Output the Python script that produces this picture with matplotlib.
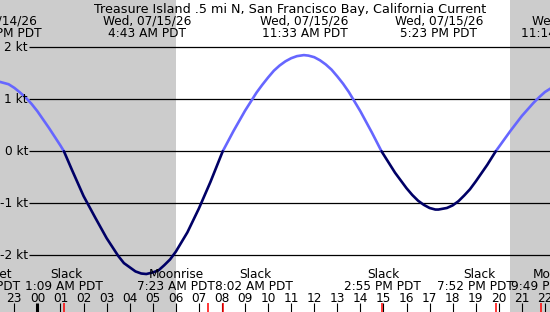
import numpy as np
import matplotlib
matplotlib.use("Agg")
import matplotlib.pyplot as plt

# ---------------- data ----------------
title = "Treasure Island .5 mi N, San Francisco Bay, California Current"

# current speed (kt), hours from 00:00 Wed 07/15/26 (negative = 07/14)
hours = [-2.0, -1.84, -1.75, -1.5, -1.25, -1.0, -0.75, -0.5, -0.25, 0.0, 0.25,
         0.5, 0.75, 1.0, 1.15, 1.5, 2.0, 2.5, 3.0, 3.5, 3.75, 4.0, 4.25, 4.5,
         4.72, 5.0, 5.25, 5.5, 5.75, 6.0, 6.5, 7.0, 7.5, 8.033, 8.5, 9.0, 9.5,
         9.75, 10.0, 10.25, 10.5, 10.75, 11.0, 11.25, 11.55, 11.75, 12.0,
         12.25, 12.5, 12.75, 13.0, 13.25, 13.5, 14.0, 14.5, 14.917, 15.5,
         16.0, 16.25, 16.5, 16.75, 17.0, 17.25, 17.383, 17.75, 18.0, 18.25,
         18.5, 18.75, 19.0, 19.5, 19.867, 20.5, 21.0, 21.5, 21.75, 22.0,
         22.25, 22.5]
speed = [1.35, 1.35, 1.35, 1.32, 1.29, 1.22, 1.13, 1.03, 0.91, 0.77, 0.61,
         0.45, 0.28, 0.11, 0.0, -0.36, -0.86, -1.27, -1.67, -2.01, -2.15,
         -2.23, -2.31, -2.35, -2.36, -2.33, -2.29, -2.19, -2.08, -1.93, -1.56,
         -1.10, -0.59, 0.0, 0.39, 0.78, 1.13, 1.28, 1.42, 1.55, 1.65, 1.73,
         1.79, 1.83, 1.85, 1.84, 1.81, 1.75, 1.67, 1.57, 1.44, 1.30, 1.14,
         0.77, 0.36, 0.0, -0.41, -0.71, -0.84, -0.95, -1.03, -1.09, -1.12,
         -1.12, -1.09, -1.04, -0.96, -0.85, -0.73, -0.58, -0.26, 0.0, 0.39,
         0.68, 0.93, 1.04, 1.14, 1.21, 1.27]

y_ticks = [2, 1, 0, -1, -2]
y_tick_labels = ["2 kt", "1 kt", "0 kt", "-1 kt", "-2 kt"]

hour_ticks = list(range(-1, 23))
hour_labels = ["23"] + ["%02d" % h for h in range(0, 23)]

sunrise = 6.0
sunset = 20.49

# max / min current events (top)
top_dates = ["Tue, 07/14/26", "Wed, 07/15/26", "Wed, 07/15/26", "Wed, 07/15/26", "Wed, 07/15/26"]
top_times = ["10:10 PM PDT", "4:43 AM PDT", "11:33 AM PDT", "5:23 PM PDT", "11:14 PM PDT"]

# slack / moon events (bottom)
bot_names = ["Moonset", "Slack", "Moonrise", "Slack", "Slack", "Slack", "Moonset"]
bot_times = ["8:41 PM PDT", "1:09 AM PDT", "7:23 AM PDT", "8:02 AM PDT",
             "2:55 PM PDT", "7:52 PM PDT", "9:49 PM PDT"]
event_hours = [1.15, 7.383, 8.033, 14.917, 19.867, 21.817]

# ---------------- layout (pixels) ----------------
W, H = 550, 312
X0, PXH = 37.4, 23.07       # pixel of 00:00, pixels per hour
Y0, PXK = 151.3, 52.0       # pixel of 0 kt, pixels per kt

def hx(px):
    return (px - X0) / PXH

def fy(py):
    return 1 - py / H

fig = plt.figure(figsize=(W / 100, H / 100), dpi=100)
ax = fig.add_axes([0, 0, 1, 1])
ax.set_xlim(hx(0), hx(W))
ax.set_ylim((Y0 - H) / PXK, Y0 / PXK)
ax.axis("off")

FS = 8.7
FONT = "DejaVu Sans"

# night shading
ax.axvspan(hx(0), sunrise, color="#cccccc", lw=0, zorder=0)
ax.axvspan(sunset, hx(W), color="#cccccc", lw=0, zorder=0)

# grid lines + y labels
for v, lab in zip(y_ticks, y_tick_labels):
    ax.plot([hx(29.3), hx(W)], [v, v], color="black", lw=0.9, zorder=1,
            solid_capstyle="butt")
    ax.text(hx(28.0), v, lab, ha="right", va="center", fontsize=FS,
            family=FONT, zorder=5)

# curve, coloured by sign
t = np.array(hours)
s = np.array(speed)
pos = np.ma.masked_where(s < 0, s)
neg = np.ma.masked_where(s > 0, s)
ax.plot(t, pos, color="#6666ff", lw=1.9, zorder=3, solid_capstyle="round",
        solid_joinstyle="round")
ax.plot(t, neg, color="#000066", lw=1.9, zorder=3, solid_capstyle="round",
        solid_joinstyle="round")

# title
fig.text(290.5 / W, fy(12.7), title, ha="center", va="baseline", fontsize=9.2,
         family=FONT)

# top event labels
top_date_px = [(36.7, "right"), (147.5, "center"), (304.5, "center"),
               (438.8, "center"), (531.7, "left")]
top_time_px = [(41.7, "right"), (146.7, "center"), (304.5, "center"),
               (438.8, "center"), (521.0, "left")]
for d, tm, (dx, dha), (tx, tha) in zip(top_dates, top_times, top_date_px, top_time_px):
    fig.text(dx / W, fy(25.0), d, ha=dha, va="baseline", fontsize=FS, family=FONT)
    fig.text(tx / W, fy(36.7), tm, ha=tha, va="baseline", fontsize=FS, family=FONT)

# bottom event labels
bot_name_px = [(12.7, "right"), (66.0, "center"), (176.5, "center"),
               (255.5, "center"), (383.0, "center"), (479.5, "center"),
               (532.7, "left")]
bot_time_px = [(20.0, "right"), (63.5, "center"), (176.0, "center"),
               (254.0, "center"), (382.0, "center"), (475.5, "center"),
               (510.7, "left")]
for n, tm, (nx, nha), (tx, tha) in zip(bot_names, bot_times, bot_name_px, bot_time_px):
    fig.text(nx / W, fy(278.3), n, ha=nha, va="baseline", fontsize=FS,
             family=FONT, zorder=6)
    fig.text(tx / W, fy(290.5), tm, ha=tha, va="baseline", fontsize=FS,
             family=FONT, zorder=6)

# hour tick labels and marks
ytop = (Y0 - 303) / PXK
ybot = (Y0 - 312) / PXK
for h, lab in zip(hour_ticks, hour_labels):
    ax.text(h, (Y0 - 301.7) / PXK, lab, ha="center", va="baseline",
            fontsize=FS, family=FONT, zorder=6)
    ax.plot([h, h], [ytop, ybot], color="black",
            lw=2.2 if h == 0 else 0.8, zorder=4, solid_capstyle="butt")
for e in event_hours:
    ax.plot([e, e], [ytop, ybot], color="red", lw=1.1, zorder=5,
            solid_capstyle="butt")

fig.savefig("out.png", dpi=100)
